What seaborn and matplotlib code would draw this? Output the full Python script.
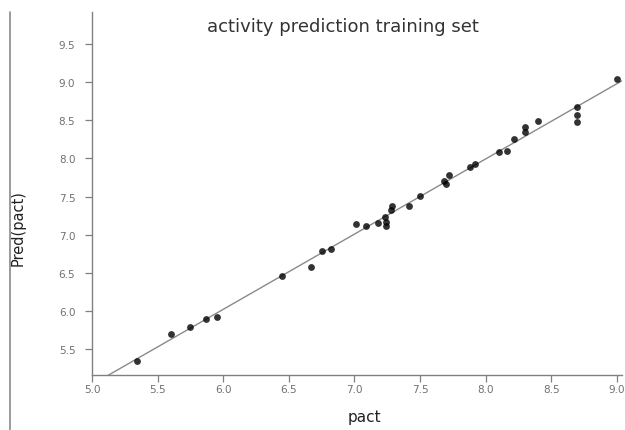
import matplotlib
matplotlib.use("Agg")
import matplotlib.pyplot as plt
from matplotlib.lines import Line2D
import pandas as pd
import seaborn as sns

# Observed activity (pact) and model prediction for the training compounds
pact = [5.34, 5.60, 5.75, 5.87, 5.95, 6.45, 6.67, 6.75, 6.82,
        7.01, 7.09, 7.18, 7.23, 7.24, 7.24, 7.28, 7.29, 7.42, 7.50,
        7.68, 7.70, 7.72, 7.88, 7.92, 8.10, 8.16, 8.22, 8.30, 8.30,
        8.40, 8.70, 8.70, 8.70, 9.00]
pred = [5.34, 5.70, 5.79, 5.89, 5.92, 6.46, 6.58, 6.79, 6.81,
        7.14, 7.12, 7.15, 7.23, 7.16, 7.12, 7.32, 7.38, 7.37, 7.51,
        7.70, 7.66, 7.78, 7.89, 7.93, 8.08, 8.10, 8.25, 8.35, 8.41,
        8.49, 8.68, 8.57, 8.48, 9.04]

x_ticks = [5.0, 5.5, 6.0, 6.5, 7.0, 7.5, 8.0, 8.5, 9.0]
y_ticks = [5.5, 6.0, 6.5, 7.0, 7.5, 8.0, 8.5, 9.0, 9.5]

df = pd.DataFrame({"pact": pact, "Pred(pact)": pred})

sns.set_theme(style="ticks")
plt.rcParams["font.family"] = ["DejaVu Sans"]

fig = plt.figure(figsize=(6.25, 4.31), dpi=100)
ax = fig.add_axes([0.1472, 0.1276, 0.848, 0.8424])

ax.set_xlim(5.0, 9.04)
ax.set_ylim(5.16, 9.92)

sns.regplot(data=df, x="pact", y="Pred(pact)", ax=ax, ci=None, truncate=False,
            scatter_kws=dict(color="black", s=24, linewidths=0, zorder=3),
            line_kws=dict(color="#8a8a8a", lw=1.0, zorder=2))

ax.set_xlim(5.0, 9.04)
ax.set_ylim(5.16, 9.92)
ax.set_xticks(x_ticks)
ax.set_yticks(y_ticks)
ax.set_xticklabels([f"{v:.1f}" for v in x_ticks])
ax.set_yticklabels([f"{v:.1f}" for v in y_ticks])

sns.despine(ax=ax)
for side in ("left", "bottom"):
    ax.spines[side].set_color("#808080")
    ax.spines[side].set_linewidth(1.0)
ax.tick_params(axis="both", direction="out", length=5, width=0.9,
               color="#808080", labelsize=7.5, labelcolor="#707070")
ax.tick_params(axis="x", pad=1.5)
ax.tick_params(axis="y", pad=7)

ax.set_xlabel("pact", fontsize=11, color="#222222")
ax.set_ylabel("Pred(pact)", fontsize=10.5, color="#222222")
ax.yaxis.set_label_coords(-0.126, 0.408)
ax.xaxis.set_label_coords(0.514, -0.095)

fig.text(0.549, 0.937, "activity prediction training set", ha="center",
         va="center", fontsize=13, color="#333333")

# thin frame line along the left edge of the figure
fig.add_artist(Line2D([0.016, 0.016], [0.0, 0.97], color="#8a8a8a", lw=1.2))

fig.savefig("out.png", dpi=100)
